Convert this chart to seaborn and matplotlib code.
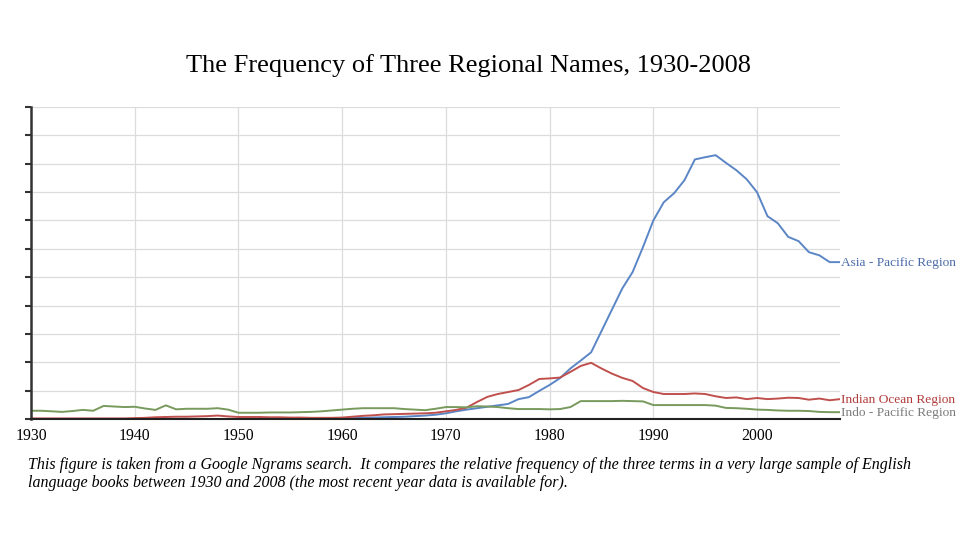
import numpy as np
import pandas as pd
import matplotlib
matplotlib.use("Agg")
import matplotlib.pyplot as plt
import seaborn as sns

# years shown in the Ngram search
years = list(range(1930, 2009))

# relative frequency (arbitrary units, one unit = one gridline)
asia_pacific = [0.0] * 26 + [
    0.01, 0.01, 0.01, 0.02, 0.02, 0.03, 0.04, 0.05, 0.06, 0.07,   # 1956-1965
    0.08, 0.10, 0.12, 0.15, 0.20, 0.27, 0.33, 0.38, 0.43, 0.48,   # 1966-1975
    0.53, 0.70, 0.77, 0.99, 1.20, 1.44, 1.78, 2.06, 2.35, 3.10,   # 1976-1985
    3.85, 4.60, 5.18, 6.06, 7.00, 7.64, 7.96, 8.42, 9.15, 9.23,   # 1986-1995
    9.30, 9.03, 8.77, 8.45, 7.99, 7.15, 6.90, 6.42, 6.27, 5.88,   # 1996-2005
    5.77, 5.53, 5.53]                                             # 2006-2008

indian_ocean = [
    0.02, 0.02, 0.02, 0.02, 0.02, 0.02, 0.02, 0.02, 0.02, 0.02,   # 1930-1939
    0.03, 0.04, 0.06, 0.07, 0.08, 0.08, 0.09, 0.10, 0.12, 0.09,   # 1940-1949
    0.07, 0.07, 0.07, 0.06, 0.06, 0.05, 0.05, 0.04, 0.04, 0.04,   # 1950-1959
    0.05, 0.08, 0.11, 0.13, 0.16, 0.17, 0.18, 0.19, 0.20, 0.22,   # 1960-1969
    0.27, 0.32, 0.40, 0.60, 0.78, 0.88, 0.95, 1.02, 1.20, 1.41,   # 1970-1979
    1.43, 1.46, 1.66, 1.87, 1.98, 1.78, 1.60, 1.45, 1.34, 1.09,   # 1980-1989
    0.95, 0.88, 0.88, 0.88, 0.90, 0.88, 0.80, 0.74, 0.76, 0.70,   # 1990-1999
    0.74, 0.70, 0.72, 0.75, 0.74, 0.68, 0.72, 0.66, 0.70]         # 2000-2008

indo_pacific = [
    0.29, 0.29, 0.27, 0.25, 0.28, 0.32, 0.29, 0.46, 0.44, 0.42,   # 1930-1939
    0.43, 0.37, 0.32, 0.48, 0.34, 0.36, 0.36, 0.36, 0.38, 0.33,   # 1940-1949
    0.22, 0.22, 0.22, 0.23, 0.23, 0.23, 0.24, 0.25, 0.27, 0.30,   # 1950-1959
    0.33, 0.36, 0.38, 0.38, 0.38, 0.38, 0.35, 0.33, 0.31, 0.36,   # 1960-1969
    0.42, 0.42, 0.41, 0.45, 0.44, 0.42, 0.38, 0.35, 0.35, 0.35,   # 1970-1979
    0.34, 0.35, 0.42, 0.63, 0.63, 0.63, 0.63, 0.64, 0.63, 0.62,   # 1980-1989
    0.49, 0.49, 0.49, 0.49, 0.49, 0.49, 0.47, 0.39, 0.38, 0.36,   # 1990-1999
    0.33, 0.32, 0.30, 0.29, 0.29, 0.28, 0.25, 0.24, 0.24]         # 2000-2008

terms = ["Asia - Pacific Region", "Indian Ocean Region", "Indo - Pacific Region"]
line_colors = ["#5b86c6", "#c0504d", "#789a5c"]
label_colors = ["#4a6aa8", "#b03a3a", "#7a7a7a"]

df = pd.DataFrame({
    "year": years * 3,
    "freq": asia_pacific + indian_ocean + indo_pacific,
    "term": np.repeat(terms, len(years)),
})

sns.set_style("white")
plt.rcParams["font.family"] = ["Liberation Serif", "DejaVu Serif"]

fig = plt.figure(figsize=(9.59, 5.43), dpi=100)
ax = fig.add_axes([0.0323, 0.2284, 0.8437, 0.5746])

sns.lineplot(data=df, x="year", y="freq", hue="term", palette=line_colors,
             linewidth=1.4, legend=False, ax=ax)

ax.set_xlim(1930, 2008)
ax.set_ylim(0, 11)
ax.set_xticks(range(1930, 2001, 10))
ax.set_yticks(range(0, 12))
ax.set_yticklabels([])
ax.grid(True, color="#dcdcdc", linewidth=0.9)
ax.set_axisbelow(True)
ax.set_xlabel("")
ax.set_ylabel("")
for s in ["top", "right"]:
    ax.spines[s].set_visible(False)
ax.spines["left"].set_color("#333333")
ax.spines["left"].set_linewidth(1.8)
ax.spines["bottom"].set_color("#222222")
ax.spines["bottom"].set_linewidth(1.5)
ax.tick_params(axis="y", left=True, length=4, width=1.5, color="#333333")
ax.tick_params(axis="x", bottom=False, labelsize=11.3, pad=3, labelcolor="black")

# end-of-line labels
last_vals = [asia_pacific[-1], indian_ocean[-1], indo_pacific[-1]]
for term, val, c in zip(terms, last_vals, label_colors):
    ax.annotate(term, xy=(years[-1], val), xytext=(1, -0.5), textcoords="offset points",
                ha="left", va="center", fontsize=9.6, color=c, annotation_clip=False)

fig.text(0.489, 0.879, "The Frequency of Three Regional Names, 1930-2008",
         ha="center", va="center", fontsize=19, color="black")

fig.text(0.029, 0.144,
         "This figure is taken from a Google Ngrams search.  It compares the relative frequency "
         "of the three terms in a very large sample of English",
         ha="left", va="center", fontsize=11.5, style="italic", color="black")
fig.text(0.029, 0.111,
         "language books between 1930 and 2008 (the most recent year data is available for).",
         ha="left", va="center", fontsize=11.5, style="italic", color="black")

fig.savefig("out.png", dpi=100)
